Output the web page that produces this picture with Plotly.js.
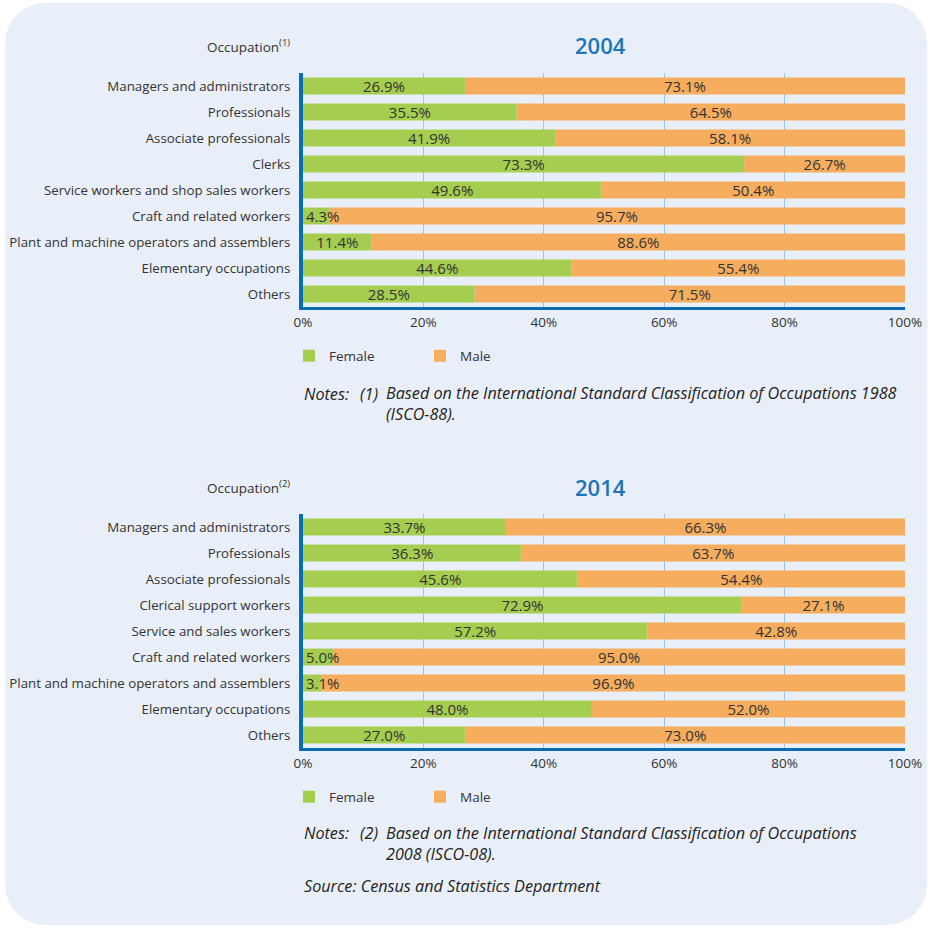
<!DOCTYPE html>
<html>
<head>
<meta charset="utf-8">
<script src="https://cdn.plot.ly/plotly-3.0.1.min.js"></script>
<style>
  html, body { margin: 0; padding: 0; background: #ffffff; }
  #bg { position: absolute; left: 5px; top: 3px; width: 922px; height: 922px; background: #e9eff9; border-radius: 40px; }
  #chart { position: absolute; left: 0; top: 0; width: 928px; height: 928px; }
</style>
</head>
<body>
<div id="bg"></div>
<div id="chart"></div>
<script>
// ---- data ----
const categories2004 = [
  "Managers and administrators", "Professionals", "Associate professionals", "Clerks",
  "Service workers and shop sales workers", "Craft and related workers",
  "Plant and machine operators and assemblers", "Elementary occupations", "Others"
];
const female2004 = [26.9, 35.5, 41.9, 73.3, 49.6, 4.3, 11.4, 44.6, 28.5];
const male2004   = [73.1, 64.5, 58.1, 26.7, 50.4, 95.7, 88.6, 55.4, 71.5];

const categories2014 = [
  "Managers and administrators", "Professionals", "Associate professionals", "Clerical support workers",
  "Service and sales workers", "Craft and related workers",
  "Plant and machine operators and assemblers", "Elementary occupations", "Others"
];
const female2014 = [33.7, 36.3, 45.6, 72.9, 57.2, 5.0, 3.1, 48.0, 27.0];
const male2014   = [66.3, 63.7, 54.4, 27.1, 42.8, 95.0, 96.9, 52.0, 73.0];

const xTickValues = [0, 20, 40, 60, 80, 100];
const seriesNames = ["Female", "Male"];
const panelTitles = ["2004", "2014"];

// ---- style ----
const FONT = "Open Sans, Noto Sans, sans-serif";
const TXT = "#333333";
const GREEN = "#a5cd50";
const ORANGE = "#f6ad5e";
const BLUE = "#0a6cb5";
const TITLEBLUE = "#1b75bb";
const GRID = "#9cc4e8";
const SMALL = 8; // labels of narrower bars are left-anchored and overflow

const fmt = v => v.toFixed(1) + "%";

function barTrace(name, values, base, cats, color, xa, ya, legend, rank, labels, anchor, showlegend) {
  return {
    type: "bar", orientation: "h", name: name,
    x: values, base: base, y: cats, xaxis: xa, yaxis: ya, legend: legend, legendrank: rank,
    showlegend: showlegend,
    marker: { color: color, line: { width: 0 } },
    text: labels,
    texttemplate: "%{text}",
    textposition: "inside", insidetextanchor: anchor,
    constraintext: "none", cliponaxis: false,
    textfont: { family: FONT, size: 15, color: TXT },
    hoverinfo: "skip"
  };
}

function panel(female, male, cats, xa, ya, legend) {
  const zeros = female.map(() => 0);
  return [
    // male bars start where the female bars end
    barTrace(seriesNames[1], male, female, cats, ORANGE, xa, ya, legend, 2, male.map(fmt), "middle", true),
    barTrace(seriesNames[0], female, zeros, cats, GREEN, xa, ya, legend, 1,
      female.map(v => v >= SMALL ? fmt(v) : ""), "middle", true),
    // labels for the narrow female bars, drawn on top
    barTrace(seriesNames[0], female, zeros, cats, "rgba(0,0,0,0)", xa, ya, legend, 3,
      female.map(v => v < SMALL ? fmt(v) : ""), "start", false)
  ];
}

const data = [].concat(
  panel(female2004, male2004, categories2004, "x", "y", "legend"),
  panel(female2014, male2014, categories2014, "x2", "y2", "legend2")
);

const xDom = [303 / 928, 905 / 928];
const yDomTop = [1 - 307 / 928, 1 - 73 / 928];
const yDomBot = [1 - 748 / 928, 1 - 514 / 928];

function xAxis(anchor) {
  return {
    domain: xDom, anchor: anchor, range: [0, 100], fixedrange: true,
    tickvals: xTickValues, ticktext: xTickValues.map(v => v + "%"),
    showgrid: true, gridcolor: GRID, gridwidth: 1, zeroline: false,
    showline: true, linecolor: BLUE, linewidth: 3,
    ticks: "", ticklabelstandoff: 1,
    tickfont: { family: FONT, size: 13.5, color: TXT }
  };
}
function yAxis(anchor, dom) {
  return {
    domain: dom, anchor: anchor, autorange: "reversed", type: "category",
    showgrid: false, zeroline: false, fixedrange: true,
    showline: true, linecolor: BLUE, linewidth: 4,
    ticks: "", ticklabelstandoff: 6,
    tickfont: { family: FONT, size: 13.3, color: TXT }
  };
}

function legend(yPx) {
  return {
    orientation: "h", x: 289 / 928, xanchor: "left", y: 1 - yPx / 928, yanchor: "middle",
    bgcolor: "rgba(0,0,0,0)", borderwidth: 0, entrywidth: 86, entrywidthmode: "pixels",
    font: { family: FONT, size: 13.5, color: TXT }, traceorder: "normal",
    itemclick: false, itemdoubleclick: false
  };
}

function ann(text, xPx, yPx, opts) {
  return Object.assign({
    text: text, xref: "paper", yref: "paper", x: xPx / 928, y: 1 - yPx / 928,
    xanchor: "left", yanchor: "middle", showarrow: false, align: "left",
    font: { family: FONT, size: 13.5, color: TXT }
  }, opts || {});
}
const NOTEFONT = { family: FONT, size: 16.2, color: "#222222", style: "italic" };

const annotations = [
  ann("Occupation<sup>(1)</sup>", 292, 46, { xanchor: "right" }),
  ann(panelTitles[0], 600, 45, { xanchor: "center", font: { family: FONT, size: 22, color: TITLEBLUE, weight: 600 } }),
  ann("Occupation<sup>(2)</sup>", 292, 487, { xanchor: "right" }),
  ann(panelTitles[1], 600, 487, { xanchor: "center", font: { family: FONT, size: 22, color: TITLEBLUE, weight: 600 } }),
  ann("Notes:", 302, 394, { font: NOTEFONT }),
  ann("(1)", 358, 394, { font: NOTEFONT }),
  ann("Based on the International Standard Classification of Occupations 1988<br>(ISCO-88).", 384, 404, { font: NOTEFONT }),
  ann("Notes:", 302, 833, { font: NOTEFONT }),
  ann("(2)", 358, 833, { font: NOTEFONT }),
  ann("Based on the International Standard Classification of Occupations<br>2008 (ISCO-08).", 384, 843, { font: NOTEFONT }),
  ann("Source: Census and Statistics Department", 302, 886, { font: NOTEFONT })
];

const layout = {
  width: 928, height: 928,
  margin: { l: 0, r: 0, t: 0, b: 0 },
  paper_bgcolor: "rgba(0,0,0,0)", plot_bgcolor: "rgba(0,0,0,0)",
  barmode: "overlay", bargap: 0.35,
  font: { family: FONT, size: 13, color: TXT },
  xaxis: xAxis("y"), yaxis: yAxis("x", yDomTop),
  xaxis2: xAxis("y2"), yaxis2: yAxis("x2", yDomBot),
  legend: legend(356), legend2: legend(797),
  annotations: annotations
};

Plotly.newPlot("chart", data, layout, { displayModeBar: false, staticPlot: true });
</script>
</body>
</html>
